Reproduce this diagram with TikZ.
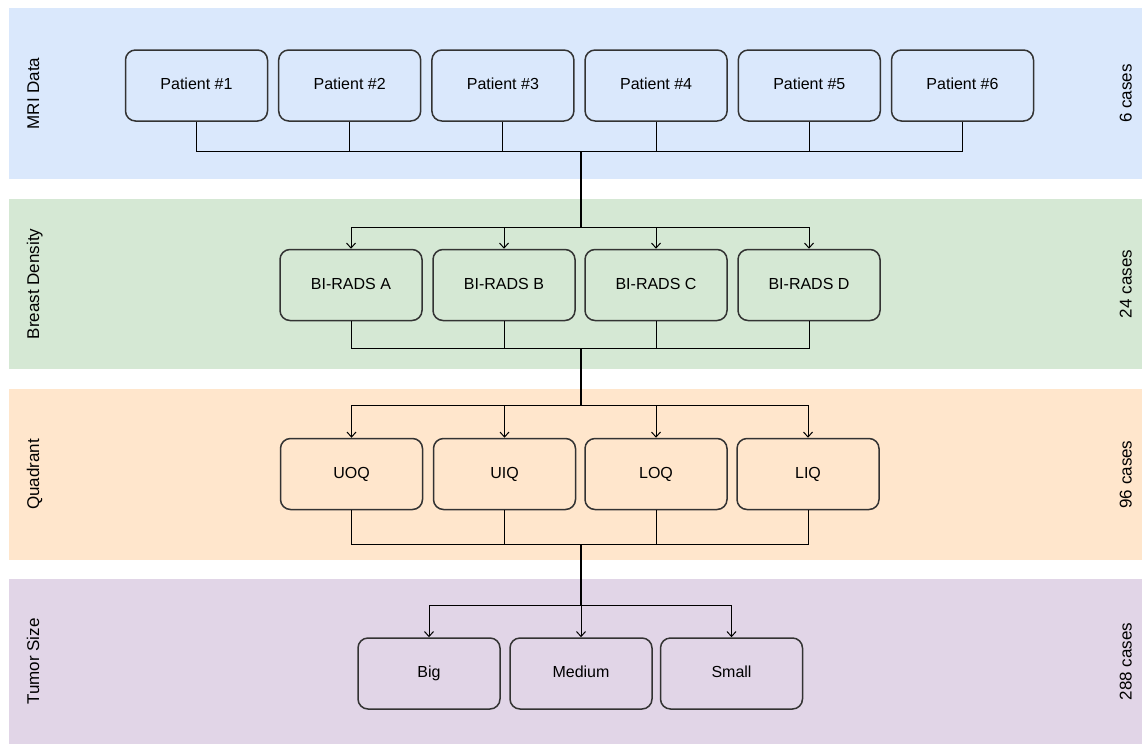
\documentclass[tikz,border=0pt]{standalone}
\usepackage{fontspec}
\setmainfont{Liberation Sans}
\usetikzlibrary{arrows.meta}
\definecolor{bandblue}{HTML}{DAE8FC}
\definecolor{bandgreen}{HTML}{D5E8D4}
\definecolor{bandorange}{HTML}{FFE6CC}
\definecolor{bandpurple}{HTML}{E1D5E7}
\definecolor{boxline}{HTML}{333333}
\tikzset{
  band/.style={draw=none},
  stagebox/.style={draw=boxline, line width=1.5pt, rounded corners=10pt,
    minimum width=142pt, minimum height=71pt, inner sep=0pt,
    text height=11.6pt, text depth=3.4pt,
    font=\fontsize{16}{19}\selectfont},
  sidelabel/.style={rotate=90, inner sep=0pt, text height=11.6pt, text depth=3.4pt,
    font=\fontsize{17}{20}\selectfont},
  conn/.style={draw=black, line width=1pt},
  trunk/.style={draw=black, line width=2pt},
  arr/.style={conn, -{Straight Barb[length=5pt,width=9pt,line width=1pt]}},
}
\begin{document}
\begin{tikzpicture}[x=1pt,y=-1pt]
\useasboundingbox (0,0) rectangle (1142,744);
% bands
\fill[bandblue]   (9,8)   rectangle (1142,179);
\fill[bandgreen]  (9,199) rectangle (1142,369);
\fill[bandorange] (9,389) rectangle (1142,560);
\fill[bandpurple] (9,579) rectangle (1142,744);
% side labels
\node[sidelabel] (l1) at (35,93.5) {MRI Data};
\node[sidelabel] (l2) at (35,284) {Breast Density};
\node[sidelabel] (l3) at (35,474.5) {Quadrant};
\node[sidelabel] (l4) at (35,661.5) {Tumor Size};
\node[sidelabel] (r1) at (1127.5,93.5) {6 cases};
\node[sidelabel] (r2) at (1127.5,284) {24 cases};
\node[sidelabel] (r3) at (1127.5,474.5) {96 cases};
\node[sidelabel] (r4) at (1127.5,661.5) {288 cases};
% level 1
\node[stagebox] (p1) at (196.5,85.5) {Patient \#1};
\node[stagebox] (p2) at (349.7,85.5) {Patient \#2};
\node[stagebox] (p3) at (502.9,85.5) {Patient \#3};
\node[stagebox] (p4) at (656.1,85.5) {Patient \#4};
\node[stagebox] (p5) at (809.3,85.5) {Patient \#5};
\node[stagebox] (p6) at (962.5,85.5) {Patient \#6};
% level 2
\node[stagebox] (b1) at (351,285) {BI-RADS A};
\node[stagebox] (b2) at (504,285) {BI-RADS B};
\node[stagebox] (b3) at (656,285) {BI-RADS C};
\node[stagebox] (b4) at (809,285) {BI-RADS D};
% level 3
\node[stagebox] (q1) at (351.5,474) {UOQ};
\node[stagebox] (q2) at (504.5,474) {UIQ};
\node[stagebox] (q3) at (656,474) {LOQ};
\node[stagebox] (q4) at (808,474) {LIQ};
% level 4
\node[stagebox] (t1) at (429,673.5) {Big};
\node[stagebox] (t2) at (581,673.5) {Medium};
\node[stagebox] (t3) at (731.5,673.5) {Small};
% junctions
\coordinate (j1) at (581,151);
\coordinate (j2) at (581,227);
\coordinate (j3) at (581,348);
\coordinate (j4) at (581,405);
\coordinate (j5) at (581,544);
\coordinate (j6) at (581,605);
% level 1 -> 2
\foreach \n in {p1,p2,p3,p4,p5,p6} \draw[conn] (\n.south) |- (j1);
\draw[trunk] (j1) -- (j2);
\foreach \n in {b1,b2,b3,b4} \draw[arr] (j2) -| (\n.north);
% level 2 -> 3
\foreach \n in {b1,b2,b3,b4} \draw[conn] (\n.south) |- (j3);
\draw[trunk] (j3) -- (j4);
\foreach \n in {q1,q2,q3,q4} \draw[arr] (j4) -| (\n.north);
% level 3 -> 4
\foreach \n in {q1,q2,q3,q4} \draw[conn] (\n.south) |- (j5);
\draw[trunk] (j5) -- (j6);
\draw[arr] (j6) -| (t1.north);
\draw[arr] (j6) -- (t2.north);
\draw[arr] (j6) -| (t3.north);
\end{tikzpicture}
\end{document}
